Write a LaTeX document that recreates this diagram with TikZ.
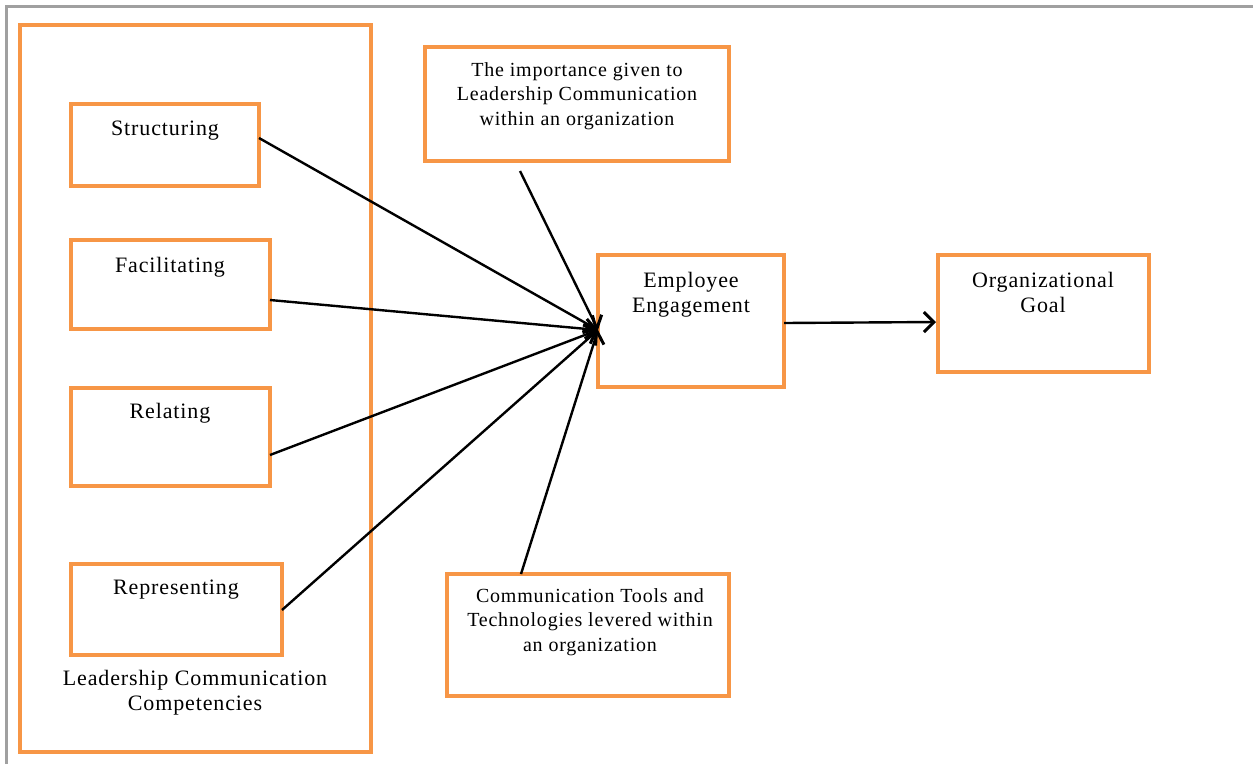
\documentclass[tikz,border=0pt]{standalone}
\usepackage{fontspec}
\setmainfont{Liberation Serif}[LetterSpace=4]
\usetikzlibrary{arrows.meta}
\definecolor{boxorange}{HTML}{F79646}
\definecolor{framegray}{HTML}{A0A0A0}
\tikzset{
  obox/.style={draw=boxorange, line width=4pt, inner sep=0pt},
  lbl/.style={align=center, font=\fontsize{22}{25.5}\selectfont, inner sep=0pt, anchor=north},
  slbl/.style={align=center, font=\fontsize{20}{24.5}\selectfont, inner sep=0pt, anchor=north},
  conn/.style={line width=2.4pt, -{Straight Barb[length=10pt,width=20pt,line width=3pt]}}
}
\begin{document}
\begin{tikzpicture}[x=1pt,y=-1pt]
\useasboundingbox (0,0) rectangle (1253,764);
\fill[white] (0,0) rectangle (1253,764);
\draw[framegray, line width=3pt] (6,764) -- (6,6) -- (1253,6);
% outer group box
\draw[obox] (20,25) rectangle (371,752);
% boxes
\draw[obox] (71,104) rectangle (259,186);
\node[lbl] (tstr) at (165,121) {Structuring};
\draw[obox] (71,240) rectangle (270,329);
\node[lbl] (tfac) at (170,257) {Facilitating};
\draw[obox] (71,388) rectangle (270,486);
\node[lbl] (trel) at (170,403) {Relating};
\draw[obox] (71,564) rectangle (282,655);
\node[lbl] (trep) at (176,580) {Representing};
\node[lbl] (tlcc) at (195,670) {Leadership Communication\\Competencies};
\draw[obox] (425,47) rectangle (729,161);
\node[slbl] (timp) at (577,62) {The importance given to\\Leadership Communication\\within an organization};
\draw[obox] (598,255) rectangle (784,387);
\node[lbl] (temp) at (691,272) {Employee\\Engagement};
\draw[obox] (938,255) rectangle (1149,372);
\node[lbl] (torg) at (1043,272) {Organizational\\Goal};
\draw[obox] (447,574) rectangle (729,696);
\node[slbl] (tcom) at (590,588) {Communication Tools and\\Technologies levered within\\an organization};
% anchor coordinates
\coordinate (sR) at (259,138);
\coordinate (fR) at (270,300);
\coordinate (rR) at (270,455);
\coordinate (pR) at (282,610);
\coordinate (iB) at (520,171);
\coordinate (cT) at (521,574);
\coordinate (eL) at (598,330);
\coordinate (eR) at (784,323);
\coordinate (oL) at (936,322);
\draw[conn] (sR) -- (eL);
\draw[conn] (fR) -- (eL);
\draw[conn] (rR) -- (eL);
\draw[conn] (pR) -- (eL);
\draw[conn] (iB) -- (eL);
\draw[conn] (cT) -- (eL);
\draw[conn] (eR) -- (oL);
\end{tikzpicture}
\end{document}
